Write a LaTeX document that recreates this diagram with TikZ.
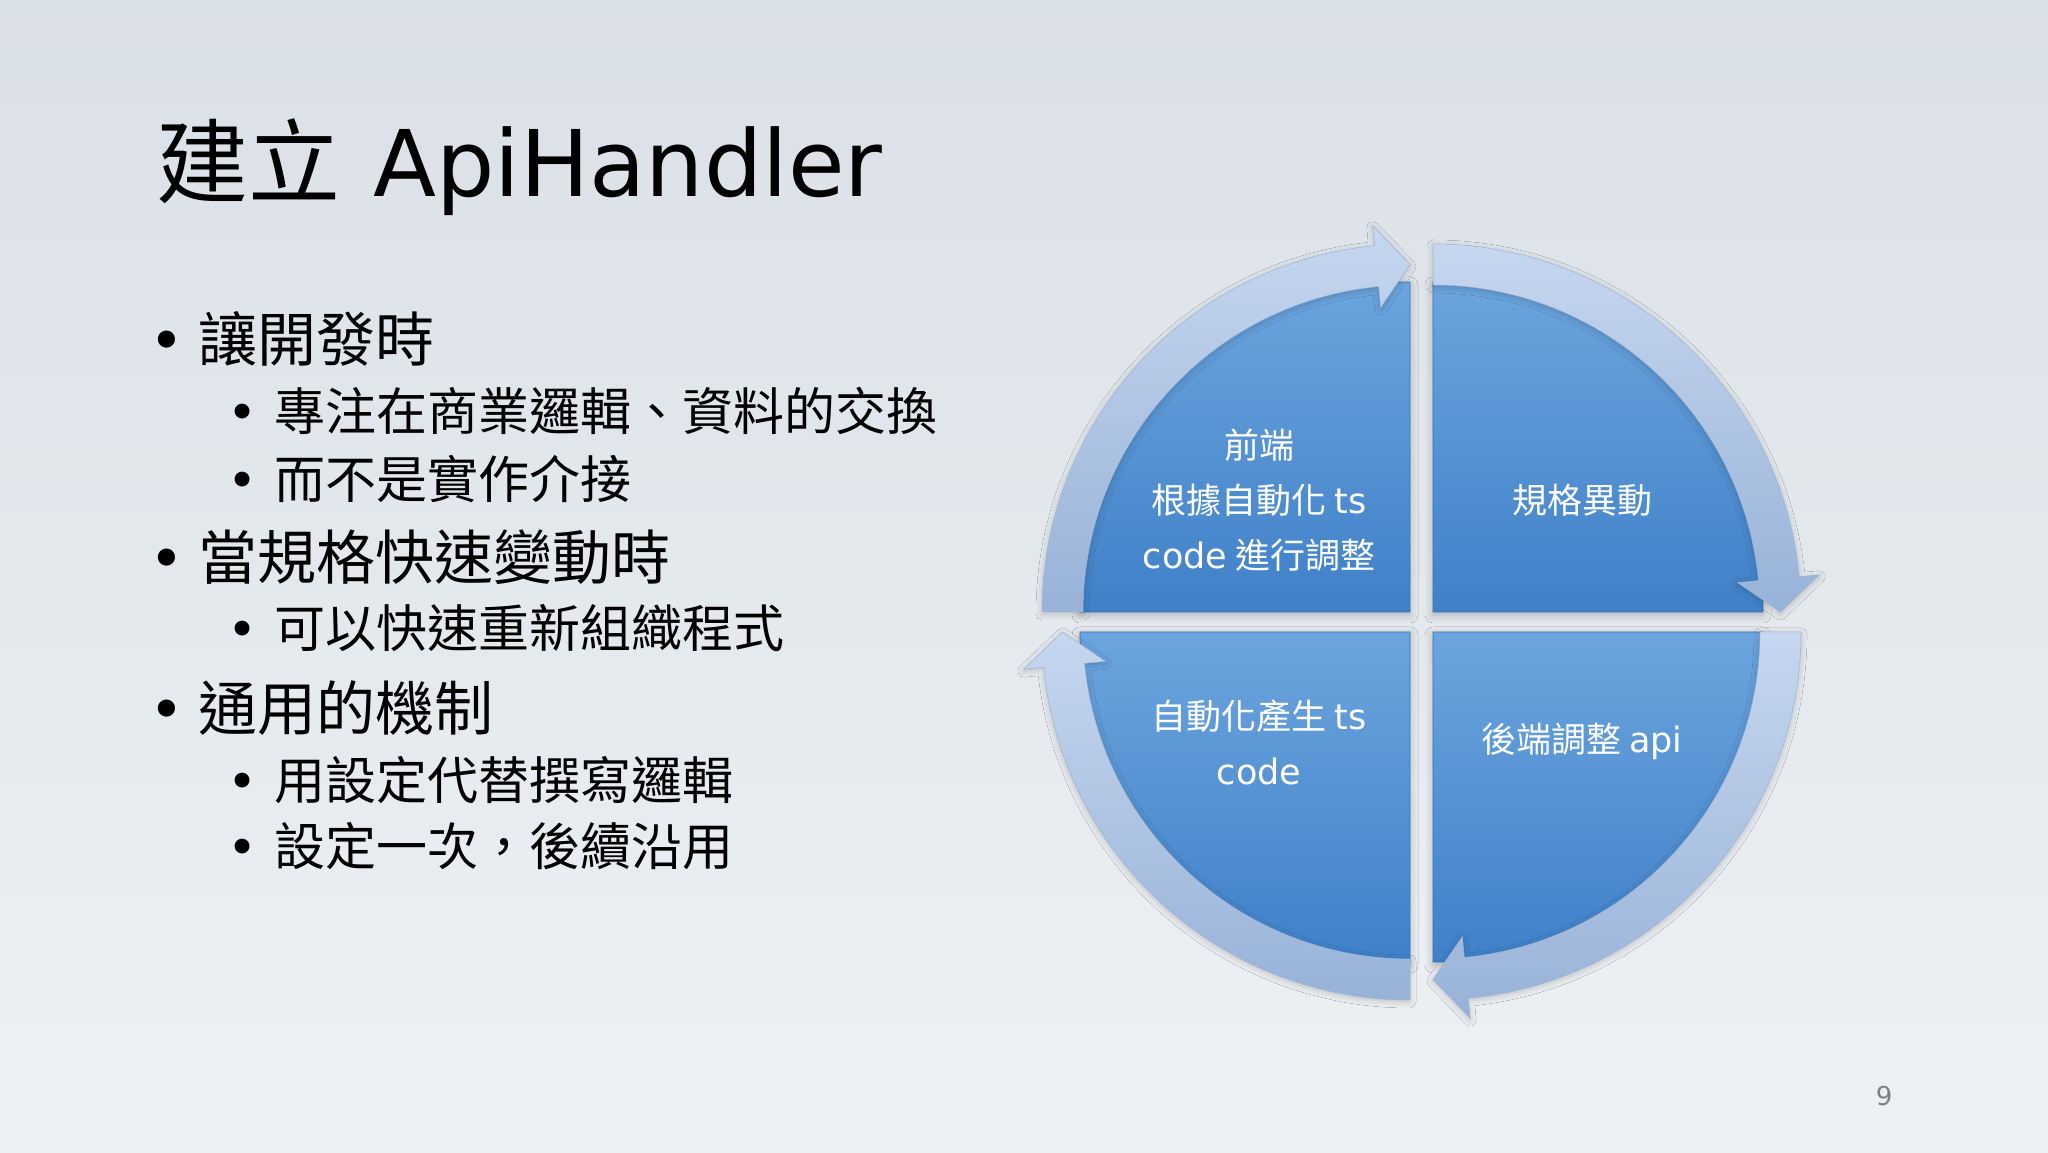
\documentclass[tikz,border=0pt]{standalone}
\usepackage{fontspec}
\setmainfont{Noto Sans CJK TC}
\newfontfamily\latinf{DejaVu Sans}
\usetikzlibrary{shadows.blur}
\definecolor{bgtop}{HTML}{DAE0E7}
\definecolor{bgbot}{HTML}{EEF1F4}
\definecolor{qtop}{HTML}{6CA5DE}
\definecolor{qbot}{HTML}{3F80C8}
\definecolor{qedge}{HTML}{3A74B4}
\definecolor{rtop}{HTML}{C6D7EF}
\definecolor{rbot}{HTML}{98B2D8}
\definecolor{redge}{HTML}{9CB4D6}
\newcommand{\lt}[1]{{\latinf #1}}
\begin{document}
\begin{tikzpicture}[x=1pt,y=1pt,
  quad/.style={top color=qtop,bottom color=qbot,draw=qedge,line width=0.8pt,
    blur shadow={shadow xshift=0pt,shadow yshift=-3pt,shadow blur radius=8pt,shadow opacity=25}},
  ring/.style={top color=rtop,bottom color=rbot,draw=redge,line width=0.5pt,
    blur shadow={shadow xshift=0pt,shadow yshift=-2pt,shadow blur radius=6pt,shadow opacity=20}},
  qlabel/.style={text=white,align=center,inner sep=0pt,font=\fontsize{35}{55}\selectfont},
  lvlone/.style={anchor=base west,inner sep=0pt,font=\fontsize{59}{59}\selectfont},
  lvltwo/.style={anchor=base west,inner sep=0pt,font=\fontsize{51}{51}\selectfont}]
% background
\shade[top color=bgtop,bottom color=bgbot] (0,0) rectangle (2048,1152);
\useasboundingbox (0,0) rectangle (2048,1152);

% title
\node[anchor=base west,inner sep=0pt] (title) at (156,955)
  {\fontsize{92}{92}\selectfont 建立\hspace{33pt}\lt{ApiHandler}};

% bullets
\node[lvlone] (b1) at (149,790) {\makebox[49pt][l]{\lt{•}}讓開發時};
\node[lvltwo] (b11) at (227,721) {\makebox[47pt][l]{\lt{•}}專注在商業邏輯、資料的交換};
\node[lvltwo] (b12) at (227,653) {\makebox[47pt][l]{\lt{•}}而不是實作介接};
\node[lvlone] (b2) at (149,572) {\makebox[49pt][l]{\lt{•}}當規格快速變動時};
\node[lvltwo] (b21) at (227,504) {\makebox[47pt][l]{\lt{•}}可以快速重新組織程式};
\node[lvlone] (b3) at (149,421) {\makebox[49pt][l]{\lt{•}}通用的機制};
\node[lvltwo] (b31) at (227,352) {\makebox[47pt][l]{\lt{•}}用設定代替撰寫邏輯};
\node[lvltwo] (b32) at (227,286) {\makebox[47pt][l]{\lt{•}}設定一次，後續沿用};

% quadrants
\path[quad] (1410,540) -- ++(180:330) arc[start angle=180,end angle=90,radius=330] -- cycle;
\path[quad] (1433,540) -- ++(90:330) arc[start angle=90,end angle=0,radius=330] -- cycle;
\path[quad] (1433,520) -- ++(0:330) arc[start angle=0,end angle=-90,radius=330] -- cycle;
\path[quad] (1410,520) -- ++(-90:330) arc[start angle=-90,end angle=-180,radius=330] -- cycle;

% circular arrows
\begin{scope}[shift={(1410,540)}]
\path[ring] (180:368) arc[start angle=180,end angle=95.5,radius=368] -- (95.5:388)
  -- (90:347.5) -- (95.5:306) -- (95.5:327) arc[start angle=95.5,end angle=180,radius=327] -- cycle;
\end{scope}
\begin{scope}[shift={(1433,540)}]
\path[ring] (90:368) arc[start angle=90,end angle=5.5,radius=368] -- (5.5:388)
  -- (0:347.5) -- (5.5:306) -- (5.5:327) arc[start angle=5.5,end angle=90,radius=327] -- cycle;
\end{scope}
\begin{scope}[shift={(1433,520)}]
\path[ring] (0:368) arc[start angle=0,end angle=-84.5,radius=368] -- (-84.5:388)
  -- (-90:347.5) -- (-84.5:306) -- (-84.5:327) arc[start angle=-84.5,end angle=0,radius=327] -- cycle;
\end{scope}
\begin{scope}[shift={(1410,520)}]
\path[ring] (-90:368) arc[start angle=-90,end angle=-174.5,radius=368] -- (-174.5:388)
  -- (-180:347.5) -- (-174.5:306) -- (-174.5:327) arc[start angle=-174.5,end angle=-90,radius=327] -- cycle;
\end{scope}

% quadrant labels
\node[qlabel] (tl) at (1259,652) {前端\\根據自動化 \lt{ts}\\\lt{code} 進行調整};
\node[qlabel] (tr) at (1582,652) {規格異動};
\node[qlabel] (bl) at (1259,410) {自動化產生 \lt{ts}\\\lt{code}};
\node[qlabel] (br) at (1582,411) {後端調整 \lt{api}};

% page number
\node[text=black!50,inner sep=0pt] (pg) at (1884,56) {\fontsize{26}{26}\selectfont\lt{9}};
\end{tikzpicture}
\end{document}
